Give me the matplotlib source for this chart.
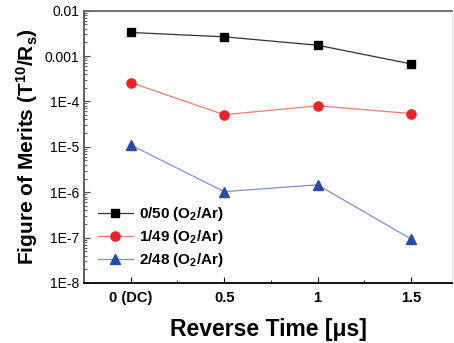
import matplotlib
matplotlib.use("Agg")
import matplotlib.pyplot as plt
from matplotlib.ticker import FixedLocator, FuncFormatter, LogLocator, NullFormatter
import numpy as np

plt.rcParams['font.family'] = ['Liberation Sans', 'DejaVu Sans']
plt.rcParams['mathtext.fontset'] = 'custom'
plt.rcParams['mathtext.rm'] = 'Liberation Sans:bold'
plt.rcParams['mathtext.it'] = 'Liberation Sans:bold'
plt.rcParams['mathtext.bf'] = 'Liberation Sans:bold'
plt.rcParams['mathtext.default'] = 'rm'

# data
reverse_time = [0, 0.5, 1, 1.5]
tick_labels = ["0 (DC)", "0.5", "1", "1.5"]
fom_0_50 = [3.3e-3, 2.65e-3, 1.73e-3, 6.7e-4]
fom_1_49 = [2.6e-4, 5.1e-5, 8.0e-5, 5.4e-5]
fom_2_48 = [1.1e-5, 1.03e-6, 1.45e-6, 9.3e-8]
names = ["0/50 (O$_2$/Ar)", "1/49 (O$_2$/Ar)", "2/48 (O$_2$/Ar)"]

fig = plt.figure(figsize=(4.54, 3.43), dpi=100)
ax = fig.add_axes([0.185, 0.175, 0.811, 0.794])

ax.plot(reverse_time, fom_0_50, color='#333333', lw=0.9, marker='s', ms=5.8,
        mfc='black', mec='black', label=names[0])
ax.plot(reverse_time, fom_1_49, color='#f07a6a', lw=0.9, marker='o', ms=6.6,
        mfc='#e8232a', mec='#e8232a', label=names[1])
ax.plot(reverse_time, fom_2_48, color='#7f8fd0', lw=0.9, marker='^', ms=7.2,
        mfc='#2a4aa6', mec='#2a4aa6', label=names[2])

ax.set_yscale('log')
ax.set_ylim(1e-8, 1e-2)
ax.set_xlim(-0.25, 1.72)

def ylab(v, pos):
    e = int(round(np.log10(v)))
    if e == -2:
        return "0.01"
    if e == -3:
        return "0.001"
    return "1E%d" % e

ax.yaxis.set_major_locator(LogLocator(base=10, numticks=10))
ax.yaxis.set_major_formatter(FuncFormatter(ylab))
ax.yaxis.set_minor_locator(LogLocator(base=10, subs=np.arange(2, 10), numticks=20))
ax.yaxis.set_minor_formatter(NullFormatter())

ax.xaxis.set_major_locator(FixedLocator(reverse_time))
ax.set_xticklabels(tick_labels, fontweight='bold', fontsize=10.5)
ax.xaxis.set_minor_locator(FixedLocator([0.25, 0.75, 1.25]))

ax.tick_params(axis='both', which='both', direction='in', top=False, right=False)
ax.tick_params(axis='y', which='major', length=4, labelsize=10, color='#444444')
ax.tick_params(axis='y', which='minor', length=2, color='#444444')
ax.tick_params(axis='x', which='major', length=4, pad=6)
ax.tick_params(axis='x', which='minor', length=2.5)

ax.spines['left'].set_color('#555555')
ax.spines['top'].set_color('#666666')
ax.spines['right'].set_color('#e6e6e6')
ax.spines['bottom'].set_color('black')
for s in ax.spines.values():
    s.set_linewidth(1.3)
ax.spines['right'].set_linewidth(0.8)

ax.set_xlabel("Reverse Time [μs]", fontsize=16.5, fontweight='bold', labelpad=9)
ax.set_ylabel("Figure of Merits (T$^{10}$/R$_s$)", fontsize=15, fontweight='bold', labelpad=3)

leg = ax.legend(loc='lower left', bbox_to_anchor=(0.0, 0.0), frameon=False,
                prop={'weight': 'bold', 'size': 11}, handlelength=2.3,
                labelspacing=0.33, handletextpad=0.4)

fig.savefig("out.png", dpi=100)
